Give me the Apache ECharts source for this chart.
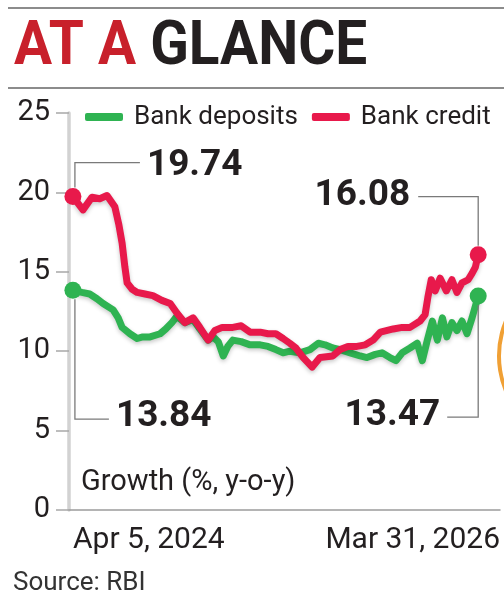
<!DOCTYPE html>
<html><head><meta charset="utf-8">
<script src="https://cdn.jsdelivr.net/npm/echarts@6/dist/echarts.min.js"></script>
<style>html,body{margin:0;padding:0;background:#fff}#c{width:504px;height:600px}</style>
</head><body><div id="c"></div>
<script>
// ---- data ----
const seriesNames = ['Bank deposits', 'Bank credit'];
const xLabels = ['Apr 5, 2024', 'Mar 31, 2026'];
const yTicks = [0, 5, 10, 15, 20, 25];

const creditDates = ['2024-04-05','2024-04-23','2024-05-09','2024-05-23','2024-06-05','2024-06-19','2024-06-26','2024-07-02','2024-07-07','2024-07-11','2024-07-20','2024-07-29','2024-08-12','2024-08-26','2024-09-11','2024-09-26','2024-10-08','2024-10-22','2024-11-06','2024-11-18','2024-12-03','2024-12-15','2024-12-28','2025-01-16','2025-01-31','2025-02-16','2025-03-06','2025-03-20','2025-04-03','2025-04-16','2025-04-28','2025-05-09','2025-05-22','2025-06-07','2025-06-21','2025-07-14','2025-07-27','2025-08-10','2025-08-26','2025-09-10','2025-09-24','2025-10-07','2025-10-30','2025-11-15','2025-11-29','2025-12-17','2025-12-26','2025-12-31','2026-01-06','2026-01-13','2026-01-22','2026-02-02','2026-02-12','2026-02-21','2026-03-02','2026-03-13','2026-03-20','2026-03-26','2026-03-31'];
const creditValues = [19.74,18.9,19.7,19.6,19.8,19.1,18.0,16.8,15.3,14.3,13.9,13.7,13.6,13.5,13.2,13.0,12.4,11.8,12.1,11.5,10.7,11.3,11.5,11.5,11.6,11.2,11.2,11.1,11.1,10.8,10.5,10.2,9.6,9.0,9.6,9.7,10.1,10.3,10.3,10.4,10.7,11.2,11.4,11.5,11.5,11.9,12.3,13.4,14.5,13.8,14.6,13.8,14.5,13.7,14.3,14.5,14.9,15.3,16.08];

const depositDates = ['2024-04-05','2024-04-21','2024-05-05','2024-05-18','2024-05-29','2024-06-16','2024-06-25','2024-07-02','2024-07-16','2024-07-29','2024-08-08','2024-08-21','2024-09-08','2024-09-18','2024-09-29','2024-10-08','2024-10-22','2024-11-06','2024-11-18','2024-12-03','2024-12-12','2024-12-21','2024-12-30','2025-01-07','2025-01-16','2025-01-31','2025-02-16','2025-03-06','2025-03-20','2025-04-03','2025-04-16','2025-04-28','2025-05-16','2025-06-03','2025-06-18','2025-06-30','2025-07-14','2025-07-27','2025-08-14','2025-09-01','2025-09-13','2025-09-28','2025-10-10','2025-10-24','2025-11-04','2025-11-15','2025-11-29','2025-12-12','2025-12-21','2025-12-30','2026-01-08','2026-01-17','2026-01-26','2026-02-03','2026-02-12','2026-02-21','2026-03-02','2026-03-11','2026-03-20','2026-03-31'];
const depositValues = [13.84,13.7,13.6,13.3,13.0,12.6,12.1,11.5,11.1,10.8,10.9,10.9,11.1,11.4,11.8,12.2,11.8,12.0,11.4,10.7,10.9,10.6,9.7,10.3,10.7,10.6,10.4,10.4,10.3,10.1,9.9,10.0,9.9,10.1,10.5,10.4,10.2,10.1,9.9,9.7,9.6,9.8,9.9,9.6,9.4,9.9,10.2,10.5,9.4,10.7,11.9,10.7,12.1,10.9,11.8,11.3,11.9,11.1,12.1,13.47];

// ---- styling ----
const RED = '#e8194b', GREEN = '#2fb352', INK = '#231f20';
const FONT = 'Roboto, "Noto Sans", sans-serif';

const chart = echarts.init(document.getElementById('c'));
const lastC = creditValues.length - 1, lastD = depositValues.length - 1;
const endSym = n => (v, p) => (p.dataIndex === 0 || p.dataIndex === n) ? 17 : 0;

const lineBase = {
  type: 'line', xAxisIndex: 1, yAxisIndex: 0, smooth: false,
  showSymbol: true, showAllSymbol: true, symbol: 'circle',
  animation: false, silent: true
};

chart.setOption({
  animation: false,
  grid: { left: 69, right: 4, top: 113, bottom: 90, containLabel: false },
  legend: {
    data: seriesNames, left: 80, top: 99, icon: 'roundRect',
    itemWidth: 38, itemHeight: 8, itemGap: 14,
    textStyle: { fontSize: 26, color: INK, fontFamily: FONT, padding: [0, 0, 0, 6] }
  },
  xAxis: [
    {
      type: 'category', data: xLabels, boundaryGap: false, position: 'bottom',
      axisLine: { show: true, lineStyle: { color: '#9c9c9c', width: 1.5 } },
      axisTick: { show: false },
      axisLabel: { interval: 0, fontSize: 30, color: INK, fontFamily: FONT, margin: 15,
                   alignMinLabel: 'left', alignMaxLabel: 'right', padding: [0, 0, 0, 4] },
      splitLine: { show: false }
    },
    {
      type: 'time', show: false, min: '2024-03-29', max: '2026-05-09',
      splitLine: { show: false }
    }
  ],
  yAxis: {
    type: 'value', min: yTicks[0], max: yTicks[yTicks.length - 1], interval: 5,
    axisLine: { show: true, lineStyle: { color: '#d2d2d2', width: 3.5 } },
    axisTick: { show: true, length: 13, lineStyle: { color: '#a8a8a8', width: 1.5 } },
    axisLabel: { fontSize: 29, color: INK, fontFamily: FONT, margin: 19 },
    splitLine: { show: false },
    name: 'Growth (%, y-o-y)', nameLocation: 'start', nameGap: -27,
    nameTextStyle: { fontSize: 29, color: INK, fontFamily: FONT, align: 'left',
                     verticalAlign: 'middle', padding: [0, 0, 0, 12] }
  },
  series: [
    Object.assign({}, lineBase, {
      name: seriesNames[0], z: 2,
      data: depositDates.map((d, i) => [d, depositValues[i]]),
      symbolSize: endSym(lastD),
      itemStyle: { color: GREEN },
      lineStyle: { color: GREEN, width: 7, cap: 'round', join: 'round',
                   shadowColor: 'rgba(0,0,0,0.22)', shadowBlur: 4, shadowOffsetY: 2 }
    }),
    Object.assign({}, lineBase, {
      name: seriesNames[1], z: 3,
      data: creditDates.map((d, i) => [d, creditValues[i]]),
      symbolSize: endSym(lastC),
      itemStyle: { color: RED },
      lineStyle: { color: RED, width: 7, cap: 'round', join: 'round',
                   shadowColor: 'rgba(0,0,0,0.22)', shadowBlur: 4, shadowOffsetY: 2 }
    })
  ]
});

// ---- annotations placed from the data points' pixel positions ----
const px = (d, v) => chart.convertToPixel({ xAxisIndex: 1, yAxisIndex: 0 }, [d, v]);
const c0 = px(creditDates[0], creditValues[0]);
const cN = px(creditDates[lastC], creditValues[lastC]);
const d0 = px(depositDates[0], depositValues[0]);
const dN = px(depositDates[lastD], depositValues[lastD]);
const LEAD = { stroke: '#7a7a7a', lineWidth: 1.3, fill: null };
const numStyle = (t, align) => ({ text: t, fill: INK, fontSize: 37, fontWeight: 'bold',
  fontFamily: FONT, align: align, verticalAlign: 'middle' });

chart.setOption({
  graphic: [
    // header rules
    { type: 'line', shape: { x1: 8, y1: 8, x2: 504, y2: 8 }, style: { stroke: '#8c8c8c', lineWidth: 2 } },
    { type: 'line', shape: { x1: 8, y1: 88, x2: 504, y2: 88 }, style: { stroke: '#8c8c8c', lineWidth: 2 } },
    // title
    { type: 'text', x: 14, y: 49, scaleX: 0.93,
      style: { text: '{r|AT A }{k|GLANCE}', verticalAlign: 'middle',
        rich: { r: { fill: '#c8202b', fontSize: 61, fontWeight: 'bold', fontFamily: FONT },
                k: { fill: INK, fontSize: 61, fontWeight: 'bold', fontFamily: FONT } } } },
    // source
    { type: 'text', x: 13, y: 583, style: { text: 'Source: RBI', fill: '#333', fontSize: 26,
      fontFamily: FONT, verticalAlign: 'middle' } },
    // partial orange ring at the right edge
    { type: 'arc', shape: { cx: 590, cy: 356, r: 91, startAngle: Math.PI * 0.7, endAngle: Math.PI * 1.3 },
      style: { stroke: '#f0a035', lineWidth: 4, fill: null } },
    // 19.74
    { type: 'polyline', z: 10, shape: { points: [[c0[0] + 2, c0[1] - 9], [c0[0] + 2, c0[1] - 34], [c0[0] + 67, c0[1] - 34]] }, style: LEAD },
    { type: 'text', z: 10, x: c0[0] + 74, y: c0[1] - 31, style: numStyle(creditValues[0].toFixed(2), 'left') },
    // 13.84
    { type: 'polyline', z: 10, shape: { points: [[d0[0] + 2, d0[1] + 9], [d0[0] + 2, d0[1] + 129], [d0[0] + 36, d0[1] + 129]] }, style: LEAD },
    { type: 'text', z: 10, x: d0[0] + 43, y: d0[1] + 127, style: numStyle(depositValues[0].toFixed(2), 'left') },
    // 16.08
    { type: 'polyline', z: 10, shape: { points: [[cN[0], cN[1] - 9], [cN[0], cN[1] - 58], [cN[0] - 60, cN[1] - 58]] }, style: LEAD },
    { type: 'text', z: 10, x: cN[0] - 68, y: cN[1] - 59, style: numStyle(creditValues[lastC].toFixed(2), 'right') },
    // 13.47
    { type: 'polyline', z: 10, shape: { points: [[dN[0], dN[1] + 9], [dN[0], dN[1] + 121], [dN[0] - 31, dN[1] + 121]] }, style: LEAD },
    { type: 'text', z: 10, x: dN[0] - 38, y: dN[1] + 120, style: numStyle(depositValues[lastD].toFixed(2), 'right') }
  ]
});
</script>
</body></html>
